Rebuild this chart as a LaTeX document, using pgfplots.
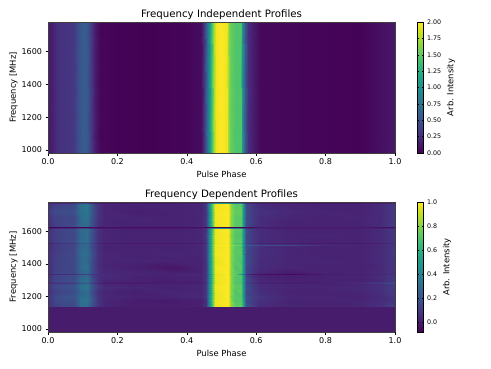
\documentclass[border=0pt]{standalone}
\usepackage{fontspec}
\setmainfont{DejaVu Sans}
\usepackage{pgfplots}
\pgfplotsset{compat=1.18}
\pgfplotsset{
  fix/.style={/pgf/number format/fixed,/pgf/number format/fixed zerofill,/pgf/number format/precision=#1},
  heat/.style={
    scale only axis, width=347pt,
    xmin=0, xmax=1, ymin=982, ymax=1781,
    view={0}{90},
    colormap name=viridis,
    axis on top,
    xtick={0,0.2,0.4,0.6,0.8,1},
    ytick={1000,1200,1400,1600},
    /pgf/number format/assume math mode=true,
    /pgf/number format/1000 sep={},
    xticklabel style={fix=1, font=\fontsize{8}{9}\selectfont},
    yticklabel style={font=\fontsize{8}{9}\selectfont},
    label style={font=\fontsize{8.4}{10}\selectfont},
    title style={font=\fontsize{10.2}{12}\selectfont, yshift=-7.5pt},
    xlabel={Pulse Phase}, ylabel={Frequency [MHz]},
    xlabel style={yshift=1pt}, ylabel style={yshift=-3pt},
    tick align=outside, tick pos=left, major tick length=2.5pt,
    tick style={black, line width=0.4pt}, axis line style={black!75, line width=0.6pt},
  },
  cbar/.style={
    colorbar,
    colorbar style={
      width=6.5pt, at={(1.0634,1)}, anchor=north west,
      /pgf/number format/assume math mode=true,
      ylabel={Arb. Intensity},
      ylabel style={font=\fontsize{8.4}{10}\selectfont, yshift=1pt},
      yticklabel style={font=\fontsize{6.3}{8}\selectfont},
      major tick length=2pt,
      #1
    },
  },
}
\begin{document}
\begin{tikzpicture}[x=1pt,y=1pt]
\path[use as bounding box] (0,0) rectangle (491,368);
\begin{axis}[heat, height=131pt, at={(48pt,215pt)}, anchor=south west,
  title={Frequency Independent Profiles},
  point meta min=0, point meta max=2,
  cbar={ytick={0,0.25,0.5,0.75,1,1.25,1.5,1.75,2}, yticklabel style={fix=2}},
]
\addplot3[surf, shader=interp, mesh/cols=34, point meta=z] coordinates {
(0,982,.12)(.015,982,.18)(.03,982,.28)(.06,982,.3)(.075,982,.33)(.09,982,.5)(.1,982,.58)(.112,982,.55)(.122,982,.38)(.135,982,.14)(.15,982,.03)(.2,982,.01)(.3,982,.005)(.4,982,.02)(.44,982,.06)(.45,982,.3)(.46,982,.85)(.47,982,1.3)(.478,982,1.75)(.485,982,1.95)(.5,982,2)(.515,982,1.95)(.52,982,1.75)(.525,982,1.55)(.54,982,1.45)(.555,982,1.45)(.56,982,1.05)(.567,982,.55)(.575,982,.25)(.59,982,.15)(.61,982,.04)(.9,982,.01)(.96,982,.08)(1,982,.12)
(0,1781,.12)(.015,1781,.18)(.03,1781,.28)(.06,1781,.3)(.075,1781,.33)(.09,1781,.5)(.1,1781,.58)(.112,1781,.55)(.122,1781,.38)(.135,1781,.14)(.15,1781,.03)(.2,1781,.01)(.3,1781,.005)(.4,1781,.02)(.44,1781,.06)(.45,1781,.3)(.46,1781,.85)(.47,1781,1.3)(.478,1781,1.75)(.485,1781,1.95)(.5,1781,2)(.515,1781,1.95)(.52,1781,1.75)(.525,1781,1.55)(.54,1781,1.45)(.555,1781,1.45)(.56,1781,1.05)(.567,1781,.55)(.575,1781,.25)(.59,1781,.15)(.61,1781,.04)(.9,1781,.01)(.96,1781,.08)(1,1781,.12)
};
\end{axis}
\begin{axis}[heat, height=130pt, at={(48pt,36pt)}, anchor=south west,
  title={Frequency Dependent Profiles},
  point meta min=-0.08, point meta max=1,
  cbar={ytick={0,0.2,0.4,0.6,0.8,1}, yticklabel style={fix=1}},
]
% band below 1140 MHz is flagged, all zero
\addplot3[surf, shader=interp, mesh/cols=2, point meta=z] coordinates {
(0,982,0)(1,982,0)
(0,1140,0)(1,1140,0)
};
\addplot3[surf, shader=interp, mesh/cols=30, point meta=z] coordinates {
(0,1141,.08)(.02,1141,.13)(.05,1141,.15)(.075,1141,.16)(.095,1141,.3)(.112,1141,.3)(.128,1141,.18)(.145,1141,.07)(.16,1141,.03)(.25,1141,.01)(.35,1141,.01)(.44,1141,.02)(.455,1141,.08)(.465,1141,.4)(.472,1141,.66)(.48,1141,.96)(.518,1141,1)(.526,1141,.82)(.54,1141,.74)(.555,1141,.74)(.563,1141,.55)(.572,1141,.2)(.59,1141,.12)(.61,1141,.05)(.7,1141,.03)(.8,1141,.03)(.9,1141,.03)(.96,1141,.07)(.98,1141,.1)(1,1141,.12)
(0,1170,.07)(.02,1170,.14)(.05,1170,.17)(.075,1170,.17)(.095,1170,.32)(.112,1170,.33)(.128,1170,.2)(.145,1170,.08)(.16,1170,.03)(.25,1170,0)(.35,1170,-.01)(.44,1170,.01)(.455,1170,.06)(.465,1170,.42)(.472,1170,.7)(.48,1170,.98)(.518,1170,1)(.526,1170,.8)(.54,1170,.7)(.555,1170,.72)(.563,1170,.55)(.572,1170,.15)(.59,1170,.1)(.61,1170,.06)(.7,1170,.02)(.8,1170,.02)(.9,1170,.03)(.96,1170,.05)(.98,1170,.07)(1,1170,.08)
(0,1200,.08)(.02,1200,.16)(.05,1200,.19)(.075,1200,.2)(.095,1200,.3)(.112,1200,.31)(.128,1200,.2)(.145,1200,.08)(.16,1200,.04)(.25,1200,.02)(.35,1200,.02)(.44,1200,.04)(.455,1200,.1)(.465,1200,.43)(.472,1200,.68)(.48,1200,.96)(.518,1200,1)(.526,1200,.78)(.54,1200,.72)(.555,1200,.7)(.563,1200,.5)(.572,1200,.17)(.59,1200,.12)(.61,1200,.08)(.7,1200,.03)(.8,1200,.03)(.9,1200,.02)(.96,1200,.05)(.98,1200,.07)(1,1200,.09)
(0,1230,.05)(.02,1230,.12)(.05,1230,.15)(.075,1230,.17)(.095,1230,.27)(.112,1230,.3)(.128,1230,.16)(.145,1230,.06)(.16,1230,.03)(.25,1230,.01)(.35,1230,.03)(.44,1230,.03)(.455,1230,.09)(.465,1230,.4)(.472,1230,.67)(.48,1230,.97)(.518,1230,1)(.526,1230,.8)(.54,1230,.7)(.555,1230,.73)(.563,1230,.5)(.572,1230,.14)(.59,1230,.1)(.61,1230,.06)(.7,1230,.02)(.8,1230,.02)(.9,1230,.03)(.96,1230,.06)(.98,1230,.09)(1,1230,.1)
(0,1260,.09)(.02,1260,.15)(.05,1260,.17)(.075,1260,.19)(.095,1260,.33)(.112,1260,.34)(.128,1260,.2)(.145,1260,.09)(.16,1260,.05)(.25,1260,.03)(.35,1260,.02)(.44,1260,.03)(.455,1260,.1)(.465,1260,.43)(.472,1260,.7)(.48,1260,.98)(.518,1260,1)(.526,1260,.79)(.54,1260,.73)(.555,1260,.72)(.563,1260,.52)(.572,1260,.17)(.59,1260,.1)(.61,1260,.05)(.7,1260,.03)(.8,1260,.03)(.9,1260,.04)(.96,1260,.07)(.98,1260,.1)(1,1260,.12)
(0,1278,.08)(.02,1278,.14)(.05,1278,.16)(.075,1278,.18)(.095,1278,.3)(.112,1278,.33)(.128,1278,.19)(.145,1278,.08)(.16,1278,.03)(.25,1278,.02)(.35,1278,.02)(.44,1278,.03)(.455,1278,.09)(.465,1278,.41)(.472,1278,.68)(.48,1278,.97)(.518,1278,1)(.526,1278,.8)(.54,1278,.72)(.555,1278,.71)(.563,1278,.5)(.572,1278,.16)(.59,1278,.1)(.61,1278,.05)(.7,1278,.03)(.8,1278,.02)(.9,1278,.03)(.96,1278,.06)(.98,1278,.09)(1,1278,.1)
(0,1285,.03)(.02,1285,.07)(.05,1285,.09)(.075,1285,.1)(.095,1285,.2)(.112,1285,.22)(.128,1285,.1)(.145,1285,.03)(.16,1285,0)(.25,1285,-.01)(.35,1285,0)(.44,1285,.01)(.455,1285,.07)(.465,1285,.38)(.472,1285,.65)(.48,1285,.96)(.518,1285,1)(.526,1285,.78)(.54,1285,.7)(.555,1285,.7)(.563,1285,.48)(.572,1285,.12)(.59,1285,.06)(.61,1285,.02)(.7,1285,0)(.8,1285,.01)(.9,1285,.05)(.96,1285,.11)(.98,1285,.15)(1,1285,.16)
(0,1293,.08)(.02,1293,.14)(.05,1293,.16)(.075,1293,.17)(.095,1293,.31)(.112,1293,.33)(.128,1293,.18)(.145,1293,.07)(.16,1293,.03)(.25,1293,.02)(.35,1293,.01)(.44,1293,.02)(.455,1293,.09)(.465,1293,.42)(.472,1293,.68)(.48,1293,.97)(.518,1293,1)(.526,1293,.8)(.54,1293,.71)(.555,1293,.7)(.563,1293,.5)(.572,1293,.16)(.59,1293,.09)(.61,1293,.04)(.7,1293,.02)(.8,1293,.02)(.9,1293,.02)(.96,1293,.05)(.98,1293,.08)(1,1293,.1)
(0,1333,.06)(.02,1333,.13)(.05,1333,.15)(.075,1333,.16)(.095,1333,.25)(.112,1333,.28)(.128,1333,.14)(.145,1333,.07)(.16,1333,.05)(.25,1333,.02)(.35,1333,.02)(.44,1333,.03)(.455,1333,.09)(.465,1333,.4)(.472,1333,.66)(.48,1333,.96)(.518,1333,1)(.526,1333,.8)(.54,1333,.72)(.555,1333,.72)(.563,1333,.5)(.572,1333,.14)(.59,1333,.05)(.61,1333,.02)(.7,1333,.01)(.8,1333,.02)(.9,1333,.02)(.96,1333,.05)(.98,1333,.08)(1,1333,.09)
(0,1340,0)(.02,1340,.04)(.05,1340,.05)(.075,1340,.06)(.095,1340,.12)(.112,1340,.13)(.128,1340,.08)(.145,1340,.05)(.16,1340,.06)(.25,1340,.03)(.35,1340,.02)(.44,1340,.04)(.455,1340,.08)(.465,1340,.36)(.472,1340,.6)(.48,1340,.95)(.518,1340,1)(.526,1340,.78)(.54,1340,.75)(.555,1340,.45)(.563,1340,.35)(.572,1340,.06)(.59,1340,-.02)(.61,1340,-.03)(.7,1340,-.06)(.8,1340,0)(.9,1340,.01)(.96,1340,.03)(.98,1340,.04)(1,1340,.05)
(0,1347,.07)(.02,1347,.13)(.05,1347,.15)(.075,1347,.15)(.095,1347,.27)(.112,1347,.28)(.128,1347,.16)(.145,1347,.07)(.16,1347,.04)(.25,1347,.03)(.35,1347,.02)(.44,1347,.02)(.455,1347,.09)(.465,1347,.42)(.472,1347,.68)(.48,1347,.97)(.518,1347,1)(.526,1347,.79)(.54,1347,.73)(.555,1347,.7)(.563,1347,.5)(.572,1347,.15)(.59,1347,.08)(.61,1347,.03)(.7,1347,0)(.8,1347,.02)(.9,1347,.02)(.96,1347,.05)(.98,1347,.08)(1,1347,.09)
(0,1380,.05)(.02,1380,.12)(.05,1380,.14)(.075,1380,.15)(.095,1380,.29)(.112,1380,.32)(.128,1380,.16)(.145,1380,.06)(.16,1380,.03)(.25,1380,.01)(.35,1380,-.02)(.44,1380,.02)(.455,1380,.08)(.465,1380,.42)(.472,1380,.68)(.48,1380,.98)(.518,1380,1)(.526,1380,.8)(.54,1380,.7)(.555,1380,.73)(.563,1380,.5)(.572,1380,.15)(.59,1380,.09)(.61,1380,.05)(.7,1380,.03)(.8,1380,.02)(.9,1380,.02)(.96,1380,.04)(.98,1380,.07)(1,1380,.08)
(0,1420,.06)(.02,1420,.12)(.05,1420,.14)(.075,1420,.15)(.095,1420,.28)(.112,1420,.28)(.128,1420,.16)(.145,1420,.06)(.16,1420,.03)(.25,1420,.03)(.35,1420,.02)(.44,1420,.02)(.455,1420,.09)(.465,1420,.41)(.472,1420,.67)(.48,1420,.96)(.518,1420,1)(.526,1420,.79)(.54,1420,.72)(.555,1420,.7)(.563,1420,.52)(.572,1420,.16)(.59,1420,.1)(.61,1420,.05)(.7,1420,.03)(.8,1420,.03)(.9,1420,.02)(.96,1420,.05)(.98,1420,.07)(1,1420,.09)
(0,1470,.06)(.02,1470,.11)(.05,1470,.14)(.075,1470,.15)(.095,1470,.3)(.112,1470,.31)(.128,1470,.17)(.145,1470,.07)(.16,1470,.03)(.25,1470,.02)(.35,1470,.03)(.44,1470,.03)(.455,1470,.09)(.465,1470,.42)(.472,1470,.7)(.48,1470,.98)(.518,1470,1)(.526,1470,.8)(.54,1470,.72)(.555,1470,.73)(.563,1470,.5)(.572,1470,.16)(.59,1470,.1)(.61,1470,.06)(.7,1470,.03)(.8,1470,.02)(.9,1470,.02)(.96,1470,.05)(.98,1470,.08)(1,1470,.1)
(0,1509,.05)(.02,1509,.1)(.05,1509,.13)(.075,1509,.14)(.095,1509,.27)(.112,1509,.28)(.128,1509,.15)(.145,1509,.06)(.16,1509,.02)(.25,1509,.02)(.35,1509,.02)(.44,1509,.03)(.455,1509,.09)(.465,1509,.4)(.472,1509,.68)(.48,1509,.97)(.518,1509,1)(.526,1509,.8)(.54,1509,.72)(.555,1509,.7)(.563,1509,.5)(.572,1509,.17)(.59,1509,.11)(.61,1509,.06)(.7,1509,.03)(.8,1509,.02)(.9,1509,.02)(.96,1509,.04)(.98,1509,.07)(1,1509,.09)
(0,1516,.06)(.02,1516,.11)(.05,1516,.14)(.075,1516,.15)(.095,1516,.29)(.112,1516,.3)(.128,1516,.17)(.145,1516,.06)(.16,1516,.03)(.25,1516,.02)(.35,1516,.02)(.44,1516,.03)(.455,1516,.09)(.465,1516,.42)(.472,1516,.7)(.48,1516,.98)(.518,1516,1)(.526,1516,.83)(.54,1516,.78)(.555,1516,.76)(.563,1516,.55)(.572,1516,.22)(.59,1516,.2)(.61,1516,.17)(.7,1516,.16)(.8,1516,.05)(.9,1516,.03)(.96,1516,.05)(.98,1516,.08)(1,1516,.1)
(0,1523,.05)(.02,1523,.1)(.05,1523,.13)(.075,1523,.14)(.095,1523,.27)(.112,1523,.28)(.128,1523,.15)(.145,1523,.06)(.16,1523,.02)(.25,1523,.02)(.35,1523,.02)(.44,1523,.03)(.455,1523,.09)(.465,1523,.41)(.472,1523,.68)(.48,1523,.97)(.518,1523,1)(.526,1523,.79)(.54,1523,.71)(.555,1523,.7)(.563,1523,.5)(.572,1523,.16)(.59,1523,.11)(.61,1523,.07)(.7,1523,.04)(.8,1523,.02)(.9,1523,.02)(.96,1523,.04)(.98,1523,.07)(1,1523,.09)
(0,1529,0)(.02,1529,.05)(.05,1529,.08)(.075,1529,.09)(.095,1529,.2)(.112,1529,.22)(.128,1529,.12)(.145,1529,.03)(.16,1529,0)(.25,1529,-.01)(.35,1529,-.01)(.44,1529,0)(.455,1529,.05)(.465,1529,.38)(.472,1529,.65)(.48,1529,.95)(.518,1529,1)(.526,1529,.78)(.54,1529,.68)(.555,1529,.68)(.563,1529,.45)(.572,1529,.12)(.59,1529,.07)(.61,1529,.02)(.7,1529,0)(.8,1529,0)(.9,1529,-.01)(.96,1529,.01)(.98,1529,.04)(1,1529,.05)
(0,1536,.06)(.02,1536,.12)(.05,1536,.15)(.075,1536,.16)(.095,1536,.3)(.112,1536,.3)(.128,1536,.17)(.145,1536,.07)(.16,1536,.03)(.25,1536,.02)(.35,1536,.02)(.44,1536,.03)(.455,1536,.09)(.465,1536,.42)(.472,1536,.69)(.48,1536,.97)(.518,1536,1)(.526,1536,.8)(.54,1536,.72)(.555,1536,.73)(.563,1536,.5)(.572,1536,.16)(.59,1536,.09)(.61,1536,.05)(.7,1536,.03)(.8,1536,.02)(.9,1536,.02)(.96,1536,.05)(.98,1536,.08)(1,1536,.1)
(0,1580,.07)(.02,1580,.12)(.05,1580,.14)(.075,1580,.15)(.095,1580,.28)(.112,1580,.3)(.128,1580,.17)(.145,1580,.06)(.16,1580,.03)(.25,1580,.02)(.35,1580,.02)(.44,1580,.03)(.455,1580,.1)(.465,1580,.41)(.472,1580,.68)(.48,1580,.97)(.518,1580,1)(.526,1580,.79)(.54,1580,.71)(.555,1580,.7)(.563,1580,.5)(.572,1580,.15)(.59,1580,.09)(.61,1580,.05)(.7,1580,.03)(.8,1580,.03)(.9,1580,.02)(.96,1580,.05)(.98,1580,.07)(1,1580,.09)
(0,1618,.06)(.02,1618,.12)(.05,1618,.15)(.075,1618,.16)(.095,1618,.29)(.112,1618,.31)(.128,1618,.18)(.145,1618,.07)(.16,1618,.03)(.25,1618,.02)(.35,1618,.02)(.44,1618,.03)(.455,1618,.09)(.465,1618,.42)(.472,1618,.68)(.48,1618,.97)(.518,1618,1)(.526,1618,.8)(.54,1618,.73)(.555,1618,.72)(.563,1618,.5)(.572,1618,.16)(.59,1618,.09)(.61,1618,.05)(.7,1618,.02)(.8,1618,.02)(.9,1618,.02)(.96,1618,.05)(.98,1618,.08)(1,1618,.1)
(0,1625,-.07)(.02,1625,-.07)(.05,1625,-.06)(.075,1625,-.06)(.095,1625,-.07)(.112,1625,-.07)(.128,1625,-.06)(.145,1625,-.05)(.16,1625,-.04)(.25,1625,-.04)(.35,1625,-.04)(.44,1625,-.04)(.455,1625,-.05)(.465,1625,-.08)(.472,1625,-.08)(.48,1625,-.08)(.518,1625,-.08)(.526,1625,-.08)(.54,1625,-.08)(.555,1625,-.08)(.563,1625,-.07)(.572,1625,-.06)(.59,1625,-.03)(.61,1625,0)(.7,1625,0)(.8,1625,0)(.9,1625,0)(.96,1625,-.03)(.98,1625,-.04)(1,1625,-.04)
(0,1632,.06)(.02,1632,.12)(.05,1632,.15)(.075,1632,.16)(.095,1632,.29)(.112,1632,.3)(.128,1632,.17)(.145,1632,.06)(.16,1632,.03)(.25,1632,.02)(.35,1632,.02)(.44,1632,.03)(.455,1632,.09)(.465,1632,.42)(.472,1632,.68)(.48,1632,.97)(.518,1632,1)(.526,1632,.8)(.54,1632,.72)(.555,1632,.72)(.563,1632,.5)(.572,1632,.16)(.59,1632,.09)(.61,1632,.05)(.7,1632,.02)(.8,1632,.02)(.9,1632,.02)(.96,1632,.05)(.98,1632,.08)(1,1632,.1)
(0,1680,.07)(.02,1680,.13)(.05,1680,.14)(.075,1680,.15)(.095,1680,.3)(.112,1680,.32)(.128,1680,.18)(.145,1680,.07)(.16,1680,.03)(.25,1680,.03)(.35,1680,.02)(.44,1680,.03)(.455,1680,.1)(.465,1680,.42)(.472,1680,.69)(.48,1680,.98)(.518,1680,1)(.526,1680,.8)(.54,1680,.72)(.555,1680,.72)(.563,1680,.5)(.572,1680,.16)(.59,1680,.1)(.61,1680,.05)(.7,1680,.03)(.8,1680,.02)(.9,1680,.03)(.96,1680,.05)(.98,1680,.08)(1,1680,.1)
(0,1720,.1)(.02,1720,.16)(.05,1720,.17)(.075,1720,.18)(.095,1720,.32)(.112,1720,.34)(.128,1720,.2)(.145,1720,.08)(.16,1720,.03)(.25,1720,.01)(.35,1720,.02)(.44,1720,.03)(.455,1720,.09)(.465,1720,.43)(.472,1720,.7)(.48,1720,.98)(.518,1720,1)(.526,1720,.82)(.54,1720,.74)(.555,1720,.75)(.563,1720,.5)(.572,1720,.17)(.59,1720,.1)(.61,1720,.07)(.7,1720,.04)(.8,1720,.03)(.9,1720,.02)(.96,1720,.05)(.98,1720,.08)(1,1720,.1)
(0,1760,.07)(.02,1760,.13)(.05,1760,.15)(.075,1760,.16)(.095,1760,.33)(.112,1760,.35)(.128,1760,.19)(.145,1760,.08)(.16,1760,.03)(.25,1760,.02)(.35,1760,.02)(.44,1760,.03)(.455,1760,.1)(.465,1760,.43)(.472,1760,.7)(.48,1760,.97)(.518,1760,1)(.526,1760,.8)(.54,1760,.72)(.555,1760,.73)(.563,1760,.52)(.572,1760,.16)(.59,1760,.1)(.61,1760,.05)(.7,1760,.03)(.8,1760,.02)(.9,1760,.02)(.96,1760,.05)(.98,1760,.08)(1,1760,.1)
(0,1770,.06)(.02,1770,.11)(.05,1770,.13)(.075,1770,.14)(.095,1770,.3)(.112,1770,.32)(.128,1770,.17)(.145,1770,.07)(.16,1770,.03)(.25,1770,.02)(.35,1770,.02)(.44,1770,.03)(.455,1770,.09)(.465,1770,.42)(.472,1770,.68)(.48,1770,.96)(.518,1770,1)(.526,1770,.8)(.54,1770,.71)(.555,1770,.72)(.563,1770,.5)(.572,1770,.15)(.59,1770,.09)(.61,1770,.05)(.7,1770,.03)(.8,1770,.02)(.9,1770,.02)(.96,1770,.05)(.98,1770,.07)(1,1770,.09)
(0,1781,-.05)(.02,1781,-.05)(.05,1781,-.05)(.075,1781,-.05)(.095,1781,-.05)(.112,1781,-.05)(.128,1781,-.05)(.145,1781,-.05)(.16,1781,-.05)(.25,1781,-.05)(.35,1781,-.05)(.44,1781,-.05)(.455,1781,-.05)(.465,1781,-.05)(.472,1781,-.05)(.48,1781,-.05)(.518,1781,-.05)(.526,1781,-.05)(.54,1781,-.05)(.555,1781,-.05)(.563,1781,-.05)(.572,1781,-.05)(.59,1781,-.05)(.61,1781,-.05)(.7,1781,-.05)(.8,1781,-.05)(.9,1781,-.05)(.96,1781,-.05)(.98,1781,-.05)(1,1781,-.05)
};
\end{axis}
\end{tikzpicture}
\end{document}
